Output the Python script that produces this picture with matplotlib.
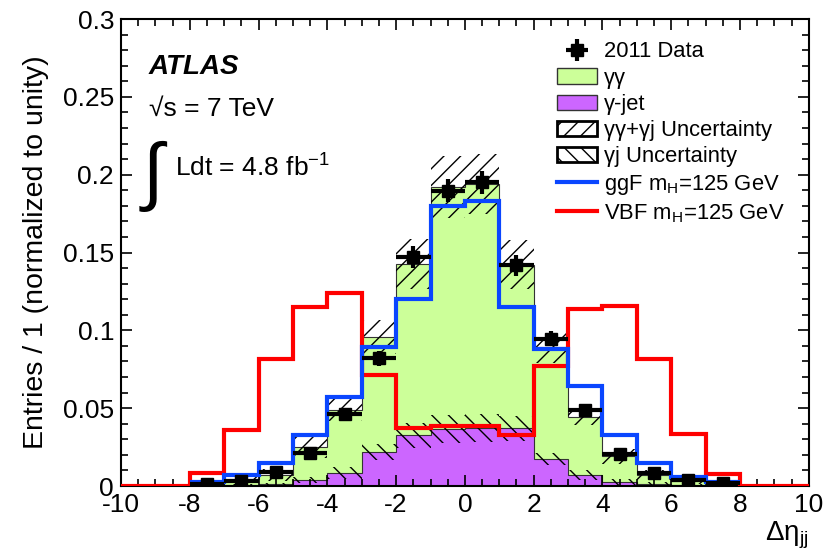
import matplotlib
matplotlib.use("Agg")
import matplotlib.pyplot as plt
import matplotlib.patches as mpatches
import matplotlib.lines as mlines
import numpy as np

plt.rcParams['font.family'] = ['Liberation Sans', 'DejaVu Sans']
plt.rcParams['mathtext.fontset'] = 'custom'
plt.rcParams['mathtext.rm'] = 'Liberation Sans'
plt.rcParams['mathtext.it'] = 'Liberation Sans:italic'
plt.rcParams['axes.unicode_minus'] = False
plt.rcParams['hatch.linewidth'] = 1.0

# bins of delta eta_jj, width 1, from -8 to 8
edges = np.arange(-8, 9, 1)
centers = edges[:-1] + 0.5

# 2011 data (normalized)
data = [0.001, 0.003, 0.009, 0.0213, 0.0462, 0.082, 0.147, 0.1897,
        0.195, 0.1417, 0.0947, 0.049, 0.0205, 0.0081, 0.0038, 0.0017]
data_err = [0.001, 0.0015, 0.003, 0.003, 0.004, 0.005, 0.007, 0.0075,
            0.0075, 0.0065, 0.005, 0.003, 0.003, 0.0025, 0.0015, 0.001]

# stacked background: total (gamma gamma + gamma jet) and gamma-jet part
total_bkg = [0.001, 0.0043, 0.007, 0.025, 0.0487, 0.0955, 0.1427, 0.1923,
             0.194, 0.1423, 0.089, 0.0444, 0.019, 0.007, 0.003, 0.001]
gj_bkg = [0.0003, 0.0005, 0.001, 0.004, 0.0085, 0.022, 0.0327, 0.0365,
          0.037, 0.037, 0.0173, 0.007, 0.0028, 0.0015, 0.0005, 0.0002]
total_unc = [0.001, 0.002, 0.004, 0.007, 0.007, 0.011, 0.016, 0.02,
             0.019, 0.016, 0.01, 0.0055, 0.005, 0.003, 0.002, 0.001]
gj_unc = [0.0003, 0.0005, 0.001, 0.002, 0.004, 0.005, 0.008, 0.009,
          0.009, 0.008, 0.004, 0.003, 0.002, 0.001, 0.0005, 0.0003]

# signal shapes, mH = 125 GeV
ggf = [0.0028, 0.007, 0.015, 0.0327, 0.0573, 0.0893, 0.12, 0.18,
       0.183, 0.115, 0.088, 0.064, 0.0327, 0.0145, 0.0056, 0.0026]
vbf = [0.0083, 0.0359, 0.0814, 0.1147, 0.1237, 0.0712, 0.0372, 0.0385,
       0.0385, 0.0327, 0.0769, 0.1135, 0.1154, 0.0814, 0.0333, 0.0077]

green = '#ccff99'
purple = '#cc66ff'
blue = '#0a46ff'
red = '#ff0000'

fig = plt.figure(figsize=(8.27, 5.54), dpi=100)
ax = fig.add_axes([0.1463, 0.1227, 0.978 - 0.1463, 0.9657 - 0.1227])

total_bkg = np.array(total_bkg)
gj_bkg = np.array(gj_bkg)
total_unc = np.array(total_unc)
gj_unc = np.array(gj_unc)

# stack
ax.stairs(total_bkg, edges, fill=True, color=green, zorder=1)
ax.stairs(total_bkg, edges, color='#333333', lw=0.8, zorder=1.1)
ax.stairs(gj_bkg, edges, fill=True, color=purple, zorder=1.2)
ax.stairs(gj_bkg, edges, color='#333333', lw=0.8, zorder=1.3)

# uncertainty bands
ax.bar(centers, 2 * total_unc, bottom=total_bkg - total_unc, width=1,
       fill=False, hatch='//', edgecolor='black', lw=0, zorder=2)
ax.bar(centers, 2 * gj_unc, bottom=gj_bkg - gj_unc, width=1,
       fill=False, hatch='\\\\', edgecolor='black', lw=0, zorder=2)

# signal
full_edges = np.arange(-10, 11, 1)
ax.stairs(np.concatenate([[0, 0], vbf, [0, 0]]), full_edges, color=red, lw=3, zorder=3)
ax.stairs(ggf, edges, color=blue, lw=3, zorder=3.1, baseline=None)

# data
ax.errorbar(centers, data, xerr=0.5, yerr=data_err, fmt='s', color='black',
            ms=8, lw=3, capsize=0, zorder=5)

ax.set_xlim(-10, 10)
ax.set_ylim(0, 0.3)
ax.set_xticks(np.arange(-10, 11, 2))
ax.set_xticks(np.arange(-10, 10.01, 0.5), minor=True)
ax.set_yticks([0, 0.05, 0.1, 0.15, 0.2, 0.25, 0.3])
ax.set_yticklabels(['0', '0.05', '0.1', '0.15', '0.2', '0.25', '0.3'])
ax.set_yticks(np.arange(0, 0.301, 0.01), minor=True)
ax.tick_params(which='both', direction='in', top=True, right=True, labelsize=19, width=1.2)
ax.tick_params(which='major', length=8)
ax.tick_params(which='minor', length=5)
ax.tick_params(axis='x', pad=5)
ax.tick_params(axis='y', pad=5)
for s in ax.spines.values():
    s.set_linewidth(1.5)

ax.set_ylabel('Entries / 1 (normalized to unity)', fontsize=20.5, labelpad=10)
ax.set_xlabel('\u0394\u03b7$_{\\mathrm{jj}}$', fontsize=20, loc='right', labelpad=2)

ax.text(0.04, 0.882, 'ATLAS', transform=ax.transAxes, fontsize=20,
        fontweight='bold', fontstyle='italic')
ax.text(0.04, 0.792, '\u221as = 7 TeV', transform=ax.transAxes, fontsize=19)
ax.text(0.031, 0.622, '\u222b', transform=ax.transAxes, fontsize=54)
ax.text(0.078, 0.662, 'Ldt = 4.8 fb$^{-1}$', transform=ax.transAxes, fontsize=19)

h_data = ax.errorbar([], [], xerr=0.5, yerr=0.01, fmt='s', color='black', ms=8, lw=3)
h_gg = mpatches.Patch(facecolor=green, edgecolor='#333333', lw=1)
h_gj = mpatches.Patch(facecolor=purple, edgecolor='#333333', lw=1)
h_u1 = mpatches.Patch(facecolor='white', edgecolor='black', lw=2, hatch='//')
h_u2 = mpatches.Patch(facecolor='white', edgecolor='black', lw=2, hatch='\\\\')
h_ggf = mlines.Line2D([], [], color=blue, lw=3)
h_vbf = mlines.Line2D([], [], color=red, lw=3)
ax.legend([h_data, h_gg, h_gj, h_u1, h_u2, h_ggf, h_vbf],
          ['2011 Data', '\u03b3\u03b3', '\u03b3-jet', '\u03b3\u03b3+\u03b3j Uncertainty',
           '\u03b3j Uncertainty',
           'ggF m$_\\mathrm{H}$=125 GeV', 'VBF m$_\\mathrm{H}$=125 GeV'],
          loc='upper left', bbox_to_anchor=(0.634, 0.952), frameon=False,
          fontsize=15.8, handlelength=1.8, handletextpad=0.35, labelspacing=0.24,
          borderaxespad=0, borderpad=0)

fig.savefig('out.png', dpi=100)
